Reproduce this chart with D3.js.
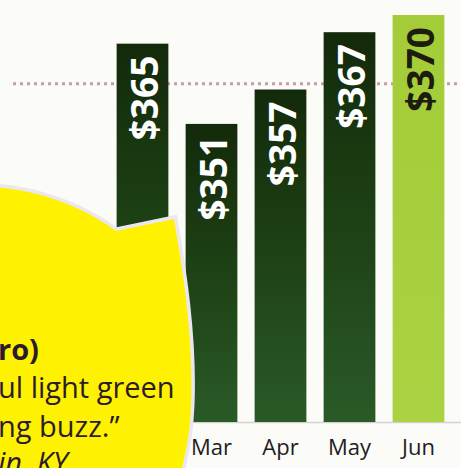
<!DOCTYPE html>
<meta charset="utf-8">
<title>Monthly price</title>
<script src="https://d3js.org/d3.v7.min.js"></script>
<style>
  body { margin: 0; background: #fbfbf7; }
  svg { display: block; }
</style>
<body>
<svg id="chart" width="461" height="468"></svg>
</body>
<script>
  // data
  const months = ["Feb", "Mar", "Apr", "May", "Jun"]
  const prices = [365, 351, 357, 367, 370]
  const highlight = ["Jun"]
  const refValue = 358
  const quoteLines = [
    { text: "ro)", bold: true, italic: false },
    { text: "ul light green", bold: false, italic: false },
    { text: "ng buzz.\u201d", bold: false, italic: false },
    { text: "in, KY", bold: false, italic: true }
  ]

  const width = 461, height = 468
  const svg = d3.select("#chart")
  const body = svg.append("g")

  const x = d3.scaleBand()
    .domain(months)
    .range([108, 453])
    .paddingInner(0.25)
    .paddingOuter(0.125)

  const y = d3.scaleLinear()
    .domain([299, 370])
    .range([422, 15])

  // gradients
  const defs = svg.append("defs")
  const dark = defs.append("linearGradient").attr("id", "dark")
    .attr("x1", 0).attr("y1", 0).attr("x2", 0).attr("y2", 1)
  dark.append("stop").attr("offset", "0%").attr("stop-color", "#132a0b")
  dark.append("stop").attr("offset", "55%").attr("stop-color", "#1f4416")
  dark.append("stop").attr("offset", "100%").attr("stop-color", "#2a5a27")
  const light = defs.append("linearGradient").attr("id", "light")
    .attr("x1", 0).attr("y1", 0).attr("x2", 0).attr("y2", 1)
  light.append("stop").attr("offset", "0%").attr("stop-color", "#a4cc38")
  light.append("stop").attr("offset", "100%").attr("stop-color", "#aad242")

  // baseline
  body.append("line")
    .attr("x1", 0).attr("x2", width)
    .attr("y1", y.range()[0] + 0.5).attr("y2", y.range()[0] + 0.5)
    .attr("stroke", "#d2d2cf")
    .attr("stroke-width", 1.5)

  // dotted reference line
  body.append("line")
    .attr("x1", 13).attr("x2", width)
    .attr("y1", y(refValue)).attr("y2", y(refValue))
    .attr("stroke", "#c59cb0")
    .attr("stroke-width", 3)
    .attr("stroke-dasharray", "3,4")

  const data = months.map((m, i) => ({ month: m, price: prices[i] }))

  body.selectAll("rect.bar")
    .data(data)
    .enter()
    .append("rect")
    .attr("class", "bar")
    .attr("x", d => x(d.month))
    .attr("width", x.bandwidth())
    .attr("y", d => y(d.price))
    .attr("height", d => y.range()[0] - y(d.price))
    .attr("fill", d => highlight.includes(d.month) ? "url(#light)" : "url(#dark)")

  body.selectAll("text.val")
    .data(data)
    .enter()
    .append("text")
    .attr("class", "val")
    .attr("transform", d => `translate(${x(d.month) + x.bandwidth() / 2 + 1},${y(d.price) + 12}) rotate(-90)`)
    .attr("text-anchor", "end")
    .attr("dominant-baseline", "central")
    .attr("font-family", "'Open Sans', sans-serif")
    .attr("font-weight", 700)
    .attr("font-size", 37)
    .attr("fill", d => highlight.includes(d.month) ? "#1c1d0e" : "#ffffff")
    .text(d => "$" + d.price)

  // month axis
  const axis = body.append("g")
    .attr("transform", `translate(0,${y.range()[0]})`)
    .call(d3.axisBottom(x).tickSize(0).tickPadding(17))
  axis.select(".domain").remove()
  axis.selectAll("text")
    .attr("font-family", "'Open Sans', sans-serif")
    .attr("font-size", 22)
    .attr("fill", "#231c24")

  // yellow speech bubble over the left side
  const bubble = "M-5,187 C35,190 80,204 116,231 L174,219 C180,255 194,330 191,405 C190,435 185,455 181,472 L-5,472 Z"
  body.append("path")
    .attr("d", bubble)
    .attr("fill", "none")
    .attr("stroke", "#ebe7ee")
    .attr("stroke-width", 7)
  body.append("path")
    .attr("d", bubble)
    .attr("fill", "#fff200")

  const baselines = [360, 398, 437, 473]
  body.selectAll("text.quote")
    .data(quoteLines)
    .enter()
    .append("text")
    .attr("class", "quote")
    .attr("x", -2)
    .attr("y", (d, i) => baselines[i])
    .attr("font-family", "'Open Sans', sans-serif")
    .attr("font-size", 29)
    .attr("font-weight", d => d.bold ? 700 : 400)
    .attr("font-style", d => d.italic ? "italic" : "normal")
    .attr("fill", "#2a1c2a")
    .text(d => d.text)
</script>
</html>
